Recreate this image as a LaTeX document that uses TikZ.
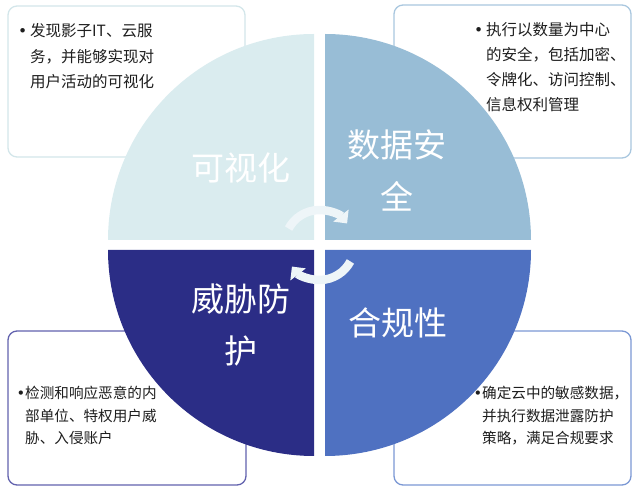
\documentclass[tikz,border=0pt]{standalone}
\usepackage{fontspec}
\setmainfont{Noto Sans CJK SC}
\newfontfamily\dotfont{DejaVu Sans}
\usetikzlibrary{arrows.meta}
\definecolor{qtl}{HTML}{DAECEF}
\definecolor{qtr}{HTML}{98BDD6}
\definecolor{qbl}{HTML}{2B2D86}
\definecolor{qbr}{HTML}{4F71C1}
\definecolor{etl}{HTML}{D3E6EA}
\definecolor{etr}{HTML}{A9C7DF}
\definecolor{ebl}{HTML}{6262AE}
\definecolor{ebr}{HTML}{7B98D4}
\definecolor{ink}{HTML}{1E1E1E}
\definecolor{turnc}{HTML}{EEF5F8}
\newcommand{\bul}{{\dotfont •}}
\tikzset{
  card/.style={draw=#1,fill=white,line width=1.3pt,rounded corners=9pt},
  note/.style={anchor=north west,align=left,inner sep=0pt,text=ink},
  tag/.style={text=white,align=center,inner sep=0pt,font=\fontsize{33}{52}\selectfont},
  turn/.style={draw=turnc,line width=8.5pt,-{Triangle[length=10pt,width=19pt]}}
}
\begin{document}
\begin{tikzpicture}[x=1pt,y=1pt]
\useasboundingbox (0,0) rectangle (640,490);
% cards under the circle
\draw[card=etl] (8,333) rectangle (245,484);
\draw[card=etr] (394,332) rectangle (631,485);
\draw[card=ebl] (8,5) rectangle (246,159);
\draw[card=ebr] (394,5) rectangle (631,159);
% four quarters
\foreach \a/\x/\y/\c in {90/314/250/qtl, 0/325/250/qtr, 180/314/240/qbl, 270/325/240/qbr}
  \fill[\c] (\x,\y) -- ++(\a:206) arc[start angle=\a,delta angle=90,radius=206] -- cycle;
% quarter titles
\node[tag] (vis) at (241,322) {可视化};
\node[tag] (sec) at (397,320) {数据安\\全};
\node[tag] (thr) at (241,165) {威胁防\\护};
\node[tag] (com) at (398,167) {合规性};
% notes
\node[note,font=\fontsize{15.5}{25.5}\selectfont] (vistxt) at (30,466.5)
  {\llap{\bul\hspace{3pt}}发现影子IT、云服\\务，并能够实现对\\用户活动的可视化};
\node[note,font=\fontsize{15.5}{24.8}\selectfont] (sectxt) at (486,467.5)
  {\llap{\bul\hspace{3pt}}执行以数量为中心\\的安全，包括加密、\\令牌化、访问控制、\\信息权利管理};
\node[note,font=\fontsize{14.6}{22.5}\selectfont] (thrtxt) at (25,104)
  {\llap{\bul}检测和响应恶意的内\\部单位、特权用户威\\胁、入侵账户};
\node[note,font=\fontsize{14.6}{22.5}\selectfont] (comtxt) at (482,104)
  {\llap{\bul}确定云中的敏感数据，\\并执行数据泄露防护\\策略，满足合规要求};
% cycle arrows
\coordinate (hub) at (319.5,245);
\draw[turn] ([shift={(152:35)}]hub) arc[start angle=152,end angle=38,radius=35];
\draw[turn] ([shift={(-28:35)}]hub) arc[start angle=-28,end angle=-142,radius=35];
\end{tikzpicture}
\end{document}
